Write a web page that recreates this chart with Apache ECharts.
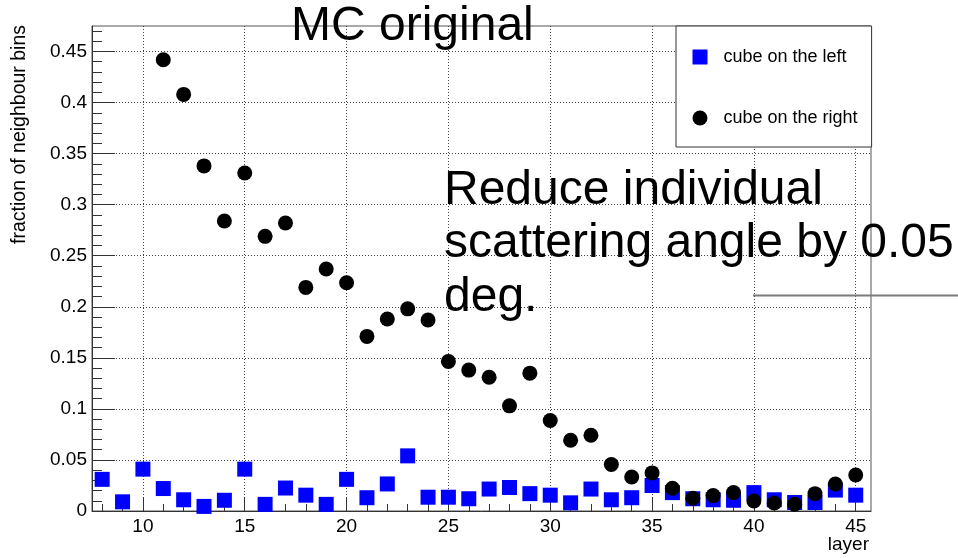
<!DOCTYPE html>
<html>
<head>
<meta charset="utf-8">
<script src="https://cdn.jsdelivr.net/npm/echarts@6/dist/echarts.min.js"></script>
<style>
html, body { margin: 0; padding: 0; background: #fff; }
#main { width: 958px; height: 558px; }
</style>
</head>
<body>
<div id="main"></div>
<script>
// layer number and fraction of neighbour bins
var layers = [8, 9, 10, 11, 12, 13, 14, 15, 16, 17, 18, 19, 20, 21, 22, 23, 24, 25, 26,
              27, 28, 29, 30, 31, 32, 33, 34, 35, 36, 37, 38, 39, 40, 41, 42, 43, 44, 45];
var cubeLeft = [0.031, 0.009, 0.041, 0.022, 0.011, 0.0045, 0.0105, 0.041, 0.0065, 0.0225,
                0.0155, 0.0065, 0.031, 0.013, 0.0265, 0.054, 0.0135, 0.0135, 0.012, 0.0215,
                0.023, 0.017, 0.0155, 0.008, 0.0215, 0.011, 0.013, 0.025, 0.018, 0.012,
                0.011, 0.0105, 0.018, 0.011, 0.0083, 0.0083, 0.0205, 0.0155];
// layers 8-10 are off the top of the frame
var cubeRight = [null, null, null, 0.442, 0.408, 0.338, 0.284, 0.331, 0.269, 0.282,
                 0.219, 0.237, 0.2235, 0.171, 0.188, 0.198, 0.187, 0.1465, 0.138, 0.131,
                 0.103, 0.135, 0.0886, 0.0693, 0.0742, 0.0455, 0.0333, 0.0373, 0.0223, 0.0125,
                 0.0151, 0.018, 0.0098, 0.0078, 0.0066, 0.017, 0.0265, 0.0353];

var xTickLabels = [10, 15, 20, 25, 30, 35, 40, 45];
var yTickLabels = [0, 0.05, 0.1, 0.15, 0.2, 0.25, 0.3, 0.35, 0.4, 0.45];

// minor ticks (every layer / every 0.01)
var xMinor = [];
for (var i = 8; i <= 45; i++) xMinor.push(i);
var yMinor = [];
for (var k = 1; k <= 47; k++) if (k % 5) yMinor.push(k / 100);

function pairs(ys) {
    var out = [];
    for (var i = 0; i < layers.length; i++) {
        if (ys[i] != null) out.push([layers[i], ys[i]]);
    }
    return out;
}

var font = '"Liberation Sans", Arial, sans-serif';
var chart = echarts.init(document.getElementById('main'));

var option = {
    animation: false,
    backgroundColor: '#fff',
    textStyle: { fontFamily: font },
    grid: {
        left: 92, right: 87, top: 26, bottom: 47,
        show: true,
        borderColor: '#555',
        borderWidth: 1
    },
    legend: {
        orient: 'vertical',
        left: 676,
        top: 26,
        itemWidth: 15,
        itemHeight: 15,
        itemGap: 43,
        padding: [22, 14, 20, 16.5],
        backgroundColor: '#fff',
        borderColor: '#333',
        borderWidth: 1,
        textStyle: { fontSize: 18, color: '#000', fontFamily: font, padding: [0, 0, 0, 11] },
        data: [
            { name: 'cube on the left', icon: 'rect' },
            { name: 'cube on the right', icon: 'circle' }
        ]
    },
    xAxis: [{
        type: 'value', min: 7.5, max: 45.75, position: 'bottom',
        axisLine: { show: true, lineStyle: { color: '#333', width: 1 } },
        axisTick: { show: true, inside: true, length: 14, customValues: xTickLabels, lineStyle: { color: '#333' } },
        axisLabel: { customValues: xTickLabels, margin: 6, color: '#000', fontSize: 19, fontFamily: font },
        splitLine: { show: true, lineStyle: { type: [1, 2], color: '#444' } }
    }, {
        type: 'value', min: 7.5, max: 45.75, position: 'bottom',
        axisLine: { show: false },
        axisTick: { show: true, inside: true, length: 7, customValues: xMinor, lineStyle: { color: '#333' } },
        axisLabel: { show: false },
        splitLine: { show: false }
    }],
    yAxis: [{
        type: 'value', min: 0, max: 0.475, position: 'left',
        axisLine: { show: true, lineStyle: { color: '#333', width: 1 } },
        axisTick: { show: true, inside: true, length: 23, customValues: yTickLabels, lineStyle: { color: '#333' } },
        axisLabel: { customValues: yTickLabels, margin: 5, color: '#000', fontSize: 19, fontFamily: font },
        splitLine: { show: true, lineStyle: { type: [1, 2], color: '#444' } }
    }, {
        type: 'value', min: 0, max: 0.475, position: 'left',
        axisLine: { show: false },
        axisTick: { show: true, inside: true, length: 10, customValues: yMinor, lineStyle: { color: '#333' } },
        axisLabel: { show: false },
        splitLine: { show: false }
    }],
    series: [{
        name: 'cube on the left',
        type: 'scatter',
        symbol: 'rect',
        symbolSize: 15,
        itemStyle: { color: '#0000ff', opacity: 1 },
        data: pairs(cubeLeft)
    }, {
        name: 'cube on the right',
        type: 'scatter',
        symbol: 'circle',
        symbolSize: 15,
        itemStyle: { color: '#000', opacity: 1 },
        data: pairs(cubeRight)
    }],
    graphic: [{
        type: 'text', x: 291, y: 27, z: 100,
        style: { text: 'MC original', fontSize: 48, fontFamily: font, fill: '#000', verticalAlign: 'middle' }
    }, {
        type: 'text', x: 444, y: 164, z: 100,
        style: {
            text: 'Reduce individual\nscattering angle by 0.05\ndeg.',
            fontSize: 48, lineHeight: 53.5, fontFamily: font, fill: '#000', verticalAlign: 'top'
        }
    }, {
        type: 'line', z: 99,
        shape: { x1: 753, y1: 295.5, x2: 958, y2: 295.5 },
        style: { stroke: '#7a7a7a', lineWidth: 2 }
    }, {
        type: 'text', x: 20, y: 25, rotation: Math.PI / 2,
        style: { text: 'fraction of neighbour bins', fontSize: 19.5, fontFamily: font, fill: '#000',
                 align: 'right', verticalAlign: 'middle' }
    }, {
        type: 'text', x: 869, y: 545,
        style: { text: 'layer', fontSize: 19, fontFamily: font, fill: '#000',
                 align: 'right', verticalAlign: 'middle' }
    }]
};

chart.setOption(option);
</script>
</body>
</html>
